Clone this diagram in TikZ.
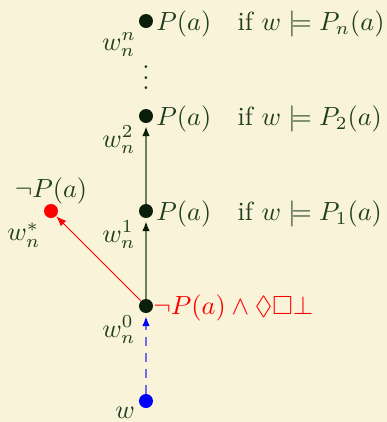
\documentclass[tikz,border=0pt]{standalone}
\usepackage{graphicx}
\usepackage{amssymb}
\usetikzlibrary{arrows.meta}
\definecolor{bgcol}{HTML}{F9F3D9}
\definecolor{txtcol}{HTML}{1F3D1F}
\definecolor{dotcol}{HTML}{0A1F0A}
\definecolor{linecol}{HTML}{6B7D5E}
\definecolor{dashblue}{HTML}{6E6EF0}
\newcommand{\bigtxt}[1]{\scalebox{1.05}{#1}}
\tikzset{
  world/.style={circle, fill=dotcol, inner sep=0pt, minimum size=5.6pt},
  lbl/.style={text=txtcol, inner sep=0pt},
  succ/.style={draw=linecol, line width=0.8pt, -{Latex[length=4pt,width=3pt,color=dotcol]}, shorten >=1pt},
  acc/.style={draw=dashblue, line width=0.8pt, dash pattern=on 3.6pt off 2.8pt, -{Latex[length=4pt,width=3pt,color=blue]}, shorten >=1pt},
  redacc/.style={draw=red, line width=0.4pt, -{Latex[length=4pt,width=3pt]}}
}
\begin{document}
\begin{tikzpicture}[x=0.4pt,y=-0.4pt]
\fill[bgcol] (0,0) rectangle (387,422);
\useasboundingbox (0,0) rectangle (387,422);
% worlds
\node[world] (wn) at (146,21) {};
\node[world] (w2) at (146,116) {};
\node[world] (w1) at (146,211) {};
\node[world] (w0) at (146,306) {};
\node[world, fill=blue] (w) at (146,401) {};
\node[world, fill=red] (ws) at (51,211) {};
% world names
\node[lbl] (lwn) at (119,45) {\bigtxt{$w_n^n$}};
\node[lbl] (lw2) at (119,140) {\bigtxt{$w_n^2$}};
\node[lbl] (lw1) at (119,235) {\bigtxt{$w_n^1$}};
\node[lbl] (lw0) at (119,330) {\bigtxt{$w_n^0$}};
\node[lbl] (lw) at (125,413) {\bigtxt{$w$}};
\node[lbl] (lws) at (24,235) {\bigtxt{$w_n^*$}};
% facts
\node[lbl, anchor=west] (fn) at (156,24) {\bigtxt{$P(a)$\quad if $w\models P_n(a)$}};
\node[lbl, anchor=west] (f2) at (156,119) {\bigtxt{$P(a)$\quad if $w\models P_2(a)$}};
\node[lbl, anchor=west] (f1) at (156,214) {\bigtxt{$P(a)$\quad if $w\models P_1(a)$}};
\node[lbl, anchor=west, text=red] (f0) at (153,308) {\bigtxt{$\neg P(a)\wedge\Diamond\Box\bot$}};
\node[lbl] (fs) at (51,191) {\bigtxt{$\neg P(a)$}};
\node[lbl] (vd) at (146,70) {\bigtxt{$\vdots$}};
% accessibility
\draw[succ] (w0) -- (w1);
\draw[succ] (w1) -- (w2);
\draw[acc] (w) -- (w0);
\draw[redacc] (w0) -- (ws);
\end{tikzpicture}
\end{document}
